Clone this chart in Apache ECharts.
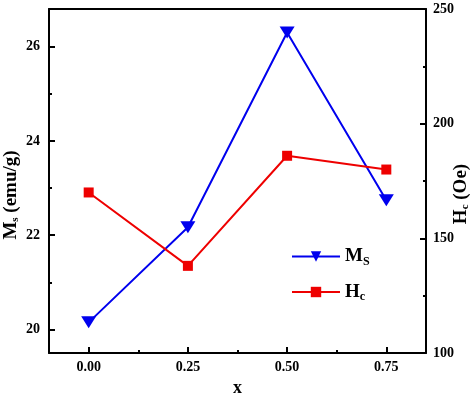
<!DOCTYPE html>
<html>
<head>
<meta charset="utf-8">
<script src="https://cdn.jsdelivr.net/npm/echarts@6/dist/echarts.min.js"></script>
<style>
  html, body { margin: 0; padding: 0; background: #fff; }
  #chart { width: 474px; height: 399px; }
</style>
</head>
<body>
<div id="chart"></div>
<script>
// values
const xValues = [0, 0.25, 0.5, 0.75]
const msValues = [20.15, 22.17, 26.3, 22.74]
const hcValues = [170, 138, 186, 180]

const xTicks = [0, 0.25, 0.5, 0.75]
const xMinorTicks = [0.125, 0.375, 0.625]
const msTicks = [20, 22, 24, 26]
const msMinorTicks = [21, 23, 25]

const font = 'Liberation Serif'
const black = '#000'

const labelStyle = { color: black, fontFamily: font, fontWeight: 'bold', fontSize: 14 }
const nameRich = {
  main: { fontFamily: font, fontWeight: 'bold', fontSize: 19, color: black },
  sub: { fontFamily: font, fontWeight: 'bold', fontSize: 11, color: black, padding: [9, 0, 0, 0] }
}
const legendRich = {
  main: { fontFamily: font, fontWeight: 'bold', fontSize: 19, color: black },
  sub: { fontFamily: font, fontWeight: 'bold', fontSize: 12, color: black, padding: [10, 0, 0, 0] }
}

const chart = echarts.init(document.getElementById('chart'), null, { renderer: 'canvas' })

const option = {
  animation: false,
  grid: { left: 49, top: 9, right: 48, bottom: 46, containLabel: false, outerBoundsMode: 'none' },
  legend: {
    left: 286,
    top: 242,
    orient: 'vertical',
    itemWidth: 48,
    itemHeight: 13,
    itemGap: 15,
    textStyle: { rich: legendRich },
    formatter: name => name === 'Ms' ? '{main|M}{sub|S}' : '{main|H}{sub|c}',
    data: ['Ms', 'Hc']
  },
  xAxis: [
    {
      type: 'value',
      min: -0.1,
      max: 0.85,
      position: 'bottom',
      name: 'x',
      nameLocation: 'middle',
      nameGap: 26,
      nameMoveOverlap: false,
      nameTextStyle: { fontFamily: font, fontWeight: 'bold', fontSize: 18, color: black },
      splitLine: { show: false },
      axisLine: { onZero: false, lineStyle: { color: black, width: 2 } },
      axisTick: { inside: true, length: 6, customValues: xTicks, lineStyle: { color: black, width: 2 } },
      axisLabel: Object.assign({ customValues: xTicks, margin: 7, formatter: v => v.toFixed(2) }, labelStyle)
    },
    {
      type: 'value',
      min: -0.1,
      max: 0.85,
      position: 'bottom',
      splitLine: { show: false },
      axisLine: { show: false, onZero: false },
      axisLabel: { show: false },
      axisTick: { inside: true, length: 3, customValues: xMinorTicks, lineStyle: { color: black, width: 2 } }
    },
    {
      type: 'value',
      min: -0.1,
      max: 0.85,
      position: 'top',
      splitLine: { show: false },
      axisLine: { onZero: false, lineStyle: { color: black, width: 2 } },
      axisLabel: { show: false },
      axisTick: { show: false }
    }
  ],
  yAxis: [
    {
      type: 'value',
      min: 19.5,
      max: 26.8,
      position: 'left',
      name: '{main|M}{sub|s}{main| (emu/g)}',
      nameLocation: 'middle',
      nameGap: 28,
      nameMoveOverlap: false,
      nameRotate: 90,
      nameTextStyle: { rich: nameRich, padding: [0, 0, 0, -28] },
      splitLine: { show: false },
      axisLine: { onZero: false, lineStyle: { color: black, width: 2 } },
      axisTick: { inside: true, length: 6, customValues: msTicks, lineStyle: { color: black, width: 2 } },
      axisLabel: Object.assign({ customValues: msTicks, margin: 9 }, labelStyle)
    },
    {
      type: 'value',
      min: 19.5,
      max: 26.8,
      position: 'left',
      splitLine: { show: false },
      axisLine: { show: false, onZero: false },
      axisLabel: { show: false },
      axisTick: { inside: true, length: 3, customValues: msMinorTicks, lineStyle: { color: black, width: 2 } }
    },
    {
      type: 'value',
      min: 100,
      max: 250,
      interval: 50,
      position: 'right',
      name: '{main|H}{sub|c}{main| (Oe)}',
      nameLocation: 'middle',
      nameGap: 25,
      nameMoveOverlap: false,
      nameRotate: 90,
      nameTextStyle: { rich: nameRich, padding: [0, 0, 0, -26] },
      splitLine: { show: false },
      axisLine: { onZero: false, lineStyle: { color: black, width: 2 } },
      axisTick: { inside: true, length: 6, lineStyle: { color: black, width: 2 } },
      minorTick: { show: true, splitNumber: 2, length: 3, lineStyle: { color: black, width: 2 } },
      axisLabel: Object.assign({ margin: 7 }, labelStyle)
    }
  ],
  series: [
    {
      name: 'Ms',
      type: 'line',
      xAxisIndex: 0,
      yAxisIndex: 0,
      data: xValues.map((x, i) => [x, msValues[i]]),
      symbol: 'triangle',
      symbolRotate: 180,
      symbolSize: [15, 12],
      lineStyle: { color: '#0000ee', width: 2 },
      itemStyle: { color: '#0000ee' }
    },
    {
      name: 'Hc',
      type: 'line',
      xAxisIndex: 0,
      yAxisIndex: 2,
      data: xValues.map((x, i) => [x, hcValues[i]]),
      symbol: 'rect',
      symbolSize: 10,
      lineStyle: { color: '#ee0000', width: 2 },
      itemStyle: { color: '#ee0000' }
    }
  ]
}

chart.setOption(option)
</script>
</body>
</html>
